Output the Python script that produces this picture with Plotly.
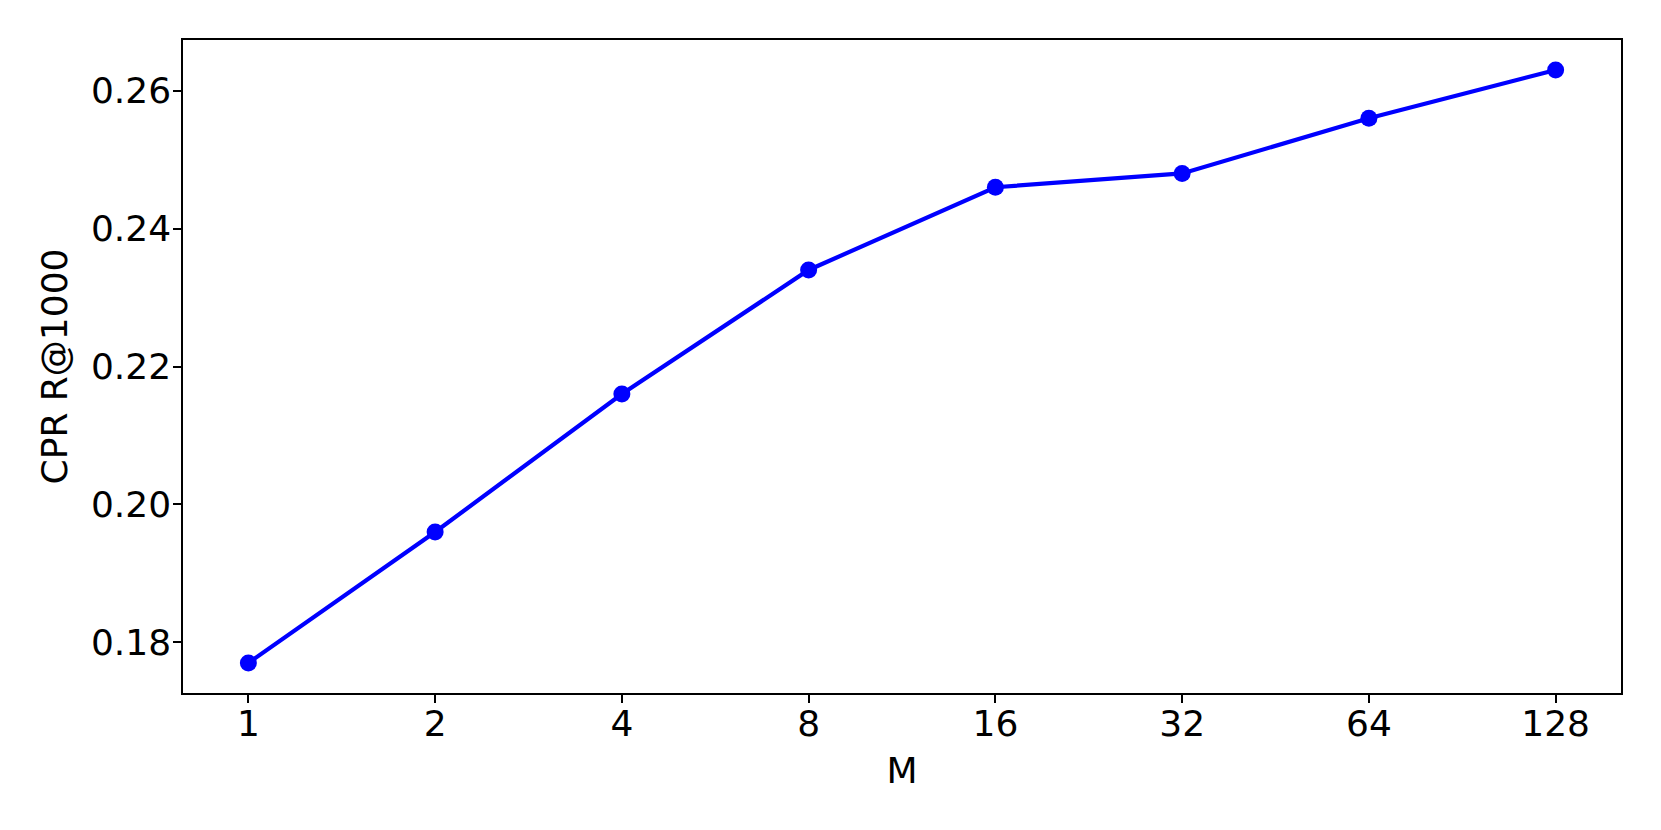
import plotly.graph_objects as go

# CPR recall@1000 against M
m_labels = ["1", "2", "4", "8", "16", "32", "64", "128"]
recall = [0.177, 0.196, 0.216, 0.234, 0.246, 0.248, 0.256, 0.263]
y_ticks = [0.18, 0.20, 0.22, 0.24, 0.26]

x_pos = list(range(len(m_labels)))

fig = go.Figure(go.Scatter(
    x=x_pos, y=recall, mode="lines+markers",
    line=dict(color="#0000ff", width=4.2),
    marker=dict(color="#0000ff", size=17),
    showlegend=False,
))

font = dict(family="DejaVu Sans", size=36, color="black")
axis_style = dict(showline=True, linecolor="black", linewidth=1.5, mirror=True,
                  showgrid=False, zeroline=False, ticks="outside", ticklen=8,
                  tickwidth=1.5, tickcolor="black", tickfont=font)

fig.update_xaxes(axis_style, range=[-0.35, 7.35], tickvals=x_pos, ticktext=m_labels,
                 ticklabelstandoff=-10,
                 title=dict(text="M", font=font, standoff=15))
fig.update_yaxes(axis_style, range=[0.17265, 0.26735], tickvals=y_ticks,
                 ticktext=["%.2f" % v for v in y_ticks], ticklabelstandoff=-5,
                 title=dict(text="CPR R@1000", font=font, standoff=12))

# page body keeps an 8px margin, so the figure is trimmed by that amount
fig.update_layout(width=1645, height=814, plot_bgcolor="white", paper_bgcolor="white",
                  margin=dict(l=175, r=32, t=32, b=129))

fig.write_html("out.html")
